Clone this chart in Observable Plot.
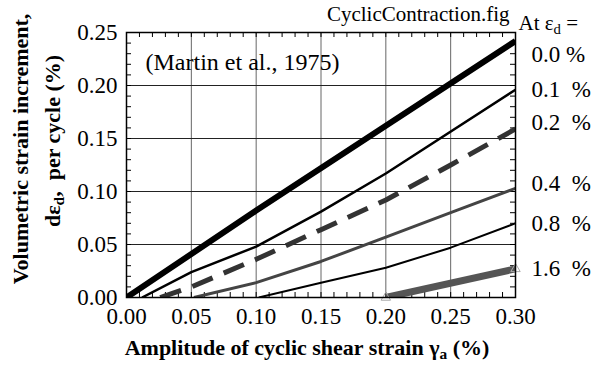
<!DOCTYPE html>
<html><head><meta charset="utf-8">
<script src="https://cdn.jsdelivr.net/npm/d3@7"></script>
<script src="https://cdn.jsdelivr.net/npm/@observablehq/plot@0.6"></script>
<style>body{margin:0;background:#fff}</style>
</head><body><div id="chart"></div>
<script>
// ---- data ----
const gammaTicks = [0, 0.05, 0.10, 0.15, 0.20, 0.25, 0.30];
const epsTicks = [0, 0.05, 0.10, 0.15, 0.20, 0.25];
const seriesNames = ["0.0 %", "0.1  %", "0.2  %", "0.4  %", "0.8  %", "1.6  %"];
const gamma_00 = [0, 0.10, 0.20, 0.30];
const dEps_00 = [0, 0.082, 0.162, 0.242];
const gamma_01 = [0.012, 0.05, 0.10, 0.15, 0.20, 0.30];
const dEps_01 = [0, 0.024, 0.048, 0.081, 0.117, 0.196];
const gamma_02 = [0.026, 0.05, 0.10, 0.15, 0.20, 0.25, 0.30];
const dEps_02 = [0, 0.010, 0.036, 0.064, 0.092, 0.125, 0.159];
const gamma_04 = [0.052, 0.10, 0.15, 0.20, 0.25, 0.30];
const dEps_04 = [0, 0.014, 0.034, 0.057, 0.080, 0.103];
const gamma_08 = [0.102, 0.15, 0.20, 0.25, 0.30];
const dEps_08 = [0, 0.014, 0.028, 0.047, 0.070];
const gamma_16 = [0.20, 0.30];
const dEps_16 = [0, 0.027];

const seriesGamma = [gamma_00, gamma_01, gamma_02, gamma_04, gamma_08, gamma_16];
const seriesEps = [dEps_00, dEps_01, dEps_02, dEps_04, dEps_08, dEps_16];

// ---- styles ----
const lineStyles = [
  {stroke: "#000", strokeWidth: 6, labelDy: 14},
  {stroke: "#000", strokeWidth: 2.5, labelDy: 0},
  {stroke: "#333", strokeWidth: 5, strokeDasharray: "22,12", labelDy: -6},
  {stroke: "#444", strokeWidth: 3, labelDy: -5},
  {stroke: "#000", strokeWidth: 2, labelDy: 0},
  {stroke: "#555", strokeWidth: 7, labelDy: 0}
];
const serif = "Liberation Serif";

const xMinor = d3.ticks(0, 0.3, 30);
const yMinor = d3.ticks(0, 0.25, 25);
const fmt = d3.format(".2f");

const lineMarks = [];
const labelMarks = [];
seriesNames.forEach((name, k) => {
  const pts = seriesGamma[k].map((g, i) => ({g, e: seriesEps[k][i]}));
  const st = lineStyles[k];
  lineMarks.push(Plot.line(pts, {
    x: "g", y: "e", stroke: st.stroke, strokeWidth: st.strokeWidth,
    strokeDasharray: st.strokeDasharray, strokeLinecap: "butt", clip: true
  }));
  labelMarks.push(Plot.text(pts.slice(-1), {
    x: "g", y: "e", text: () => name, dx: 16, dy: st.labelDy,
    textAnchor: "start", lineAnchor: "middle", fontSize: 23, fontFamily: serif, fill: "#000",
    className: "pre-label"
  }));
});
const endPts16 = gamma_16.map((g, i) => ({g, e: dEps_16[i]}));

const plot = Plot.plot({
  width: 605, height: 369,
  marginLeft: 126, marginRight: 90, marginTop: 32, marginBottom: 72,
  x: {domain: [0, 0.30]},
  y: {domain: [0, 0.25]},
  style: {fontFamily: serif, background: "#fff", color: "#000"},
  marks: [
    Plot.ruleX(gammaTicks, {stroke: "#666", strokeWidth: 1}),
    Plot.ruleY(epsTicks, {stroke: "#222", strokeWidth: 1}),
    Plot.ruleX(xMinor, {insetTop: 260, stroke: "#000"}),
    Plot.ruleX(xMinor, {insetBottom: 260, stroke: "#000"}),
    Plot.ruleY(yMinor, {insetRight: 384, stroke: "#000"}),
    Plot.ruleY(yMinor, {insetLeft: 384, stroke: "#000"}),
    ...lineMarks,
    Plot.dot(endPts16, {x: "g", y: "e", symbol: "triangle", r: 3.5, stroke: "#aaa", fill: "none", strokeWidth: 1}),
    Plot.frame({stroke: "#000", strokeWidth: 1.5}),
    Plot.axisX(gammaTicks, {tickSize: 0, tickPadding: 10, tickFormat: fmt, fontSize: 23, label: null, fontFamily: serif}),
    Plot.axisY(epsTicks, {tickSize: 0, tickPadding: 9, tickFormat: fmt, fontSize: 23, label: null, fontFamily: serif}),
    ...labelMarks,
    Plot.text(["(Martin et al., 1975)"], {frameAnchor: "top-left", dx: 19, dy: 30, textAnchor: "start", lineAnchor: "middle", fontSize: 24, fontFamily: serif}),
    Plot.text(["CyclicContraction.fig"], {frameAnchor: "top-right", dx: -6, dy: -18, textAnchor: "end", lineAnchor: "middle", fontSize: 21, fontFamily: serif}),
    Plot.text(["At εd ="], {frameAnchor: "top-right", dx: 3, dy: -9, textAnchor: "start", lineAnchor: "middle", fontSize: 21, fontFamily: serif, className: "sub-at"}),
    Plot.text(["Volumetric strain increment,"], {frameAnchor: "left", rotate: -90, dx: -106, dy: -16, textAnchor: "middle", lineAnchor: "middle", fontSize: 22, fontWeight: "bold", fontFamily: serif}),
    Plot.text(["dεd,  per cycle (%)"], {frameAnchor: "left", rotate: -90, dx: -74, dy: -24, textAnchor: "middle", lineAnchor: "middle", fontSize: 22, fontWeight: "bold", fontFamily: serif, className: "sub-ylab"}),
    Plot.text(["Amplitude of cyclic shear strain γa (%)"], {frameAnchor: "bottom", dx: -14, dy: 50, textAnchor: "middle", lineAnchor: "middle", fontSize: 22, fontWeight: "bold", fontFamily: serif, className: "sub-xlab"})
  ]
});

// subscripts via tspans
const NS = "http://www.w3.org/2000/svg";
function subscript(sel, parts) {
  const t = plot.querySelector(sel + " text");
  if (!t) return;
  t.textContent = "";
  t.setAttribute("xml:space", "preserve");
  t.style.whiteSpace = "pre";
  parts.forEach(([str, sub]) => {
    const ts = document.createElementNS(NS, "tspan");
    ts.textContent = str;
    if (sub) { ts.setAttribute("baseline-shift", "-4"); ts.setAttribute("font-size", "70%"); }
    t.appendChild(ts);
  });
}
subscript(".sub-at", [["At ε", false], ["d", true], [" =", false]]);
subscript(".sub-ylab", [["dε", false], ["d", true], [",  per cycle (%)", false]]);
subscript(".sub-xlab", [["Amplitude of cyclic shear strain ", false], ["γ", false], ["a", true], [" (%)", false]]);
plot.querySelectorAll(".pre-label text").forEach(t => { t.style.whiteSpace = "pre"; });

document.getElementById("chart").appendChild(plot);
</script>
</body></html>
